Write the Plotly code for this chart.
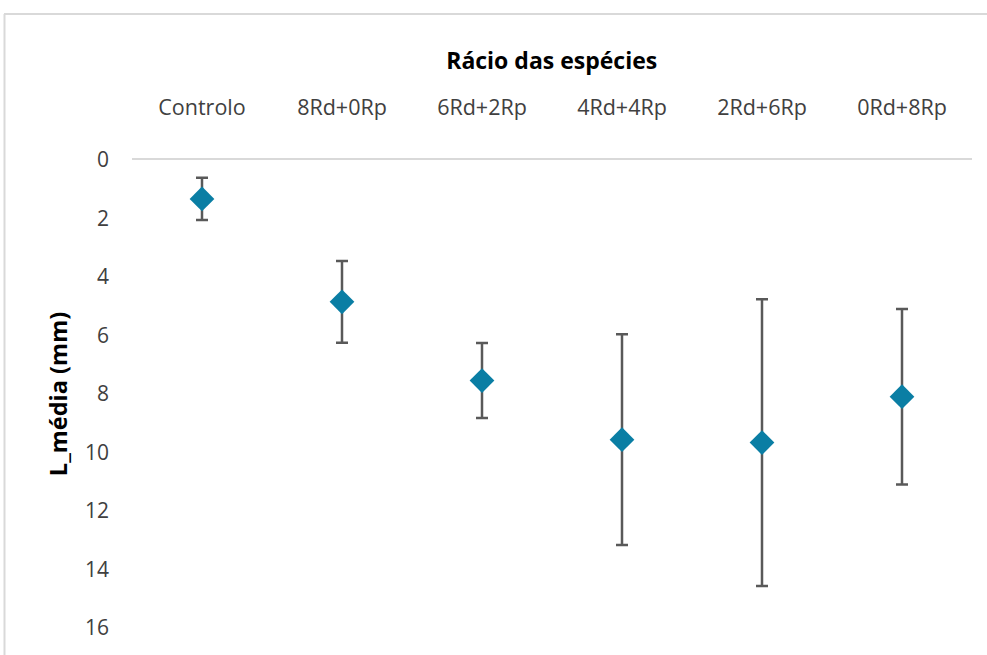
import plotly.graph_objects as go

categories = ["Controlo", "8Rd+0Rp", "6Rd+2Rp", "4Rd+4Rp", "2Rd+6Rp", "0Rd+8Rp"]
l_media = [1.33, 4.85, 7.54, 9.56, 9.66, 8.09]
erro = [0.72, 1.40, 1.28, 3.60, 4.90, 3.00]
y_ticks = [0, 2, 4, 6, 8, 10, 12, 14, 16]

FONT = "Open Sans, sans-serif"

fig = go.Figure()
fig.add_trace(go.Scatter(
    x=categories, y=l_media, mode="markers",
    marker=dict(symbol="diamond", size=19, color="#0A7EA4"),
    error_y=dict(type="data", array=erro, visible=True, color="#595959", thickness=2.5, width=6),
    showlegend=False,
))

fig.update_layout(
    width=987, height=655,
    paper_bgcolor="white", plot_bgcolor="white",
    margin=dict(l=132, r=15, t=160, b=27),
    font=dict(family=FONT, size=21, color="#404040"),
    title=dict(text="<b>Rácio das espécies</b>", x=0.559, xanchor="center",
               y=1 - 61 / 655, yanchor="middle", yref="container",
               font=dict(family=FONT, size=23, color="black")),
    xaxis=dict(side="top", showgrid=False, showline=True, linecolor="#D9D9D9", linewidth=2,
               ticks="", ticklabelstandoff=34, tickfont=dict(size=21.5, color="#404040"),
               zeroline=False, range=[-0.5, 5.5]),
    yaxis=dict(range=[16, 0], tickvals=y_ticks, showgrid=False, zeroline=False, showline=False,
               ticks="", ticklabelstandoff=22, tickfont=dict(size=21, color="#404040"),
               title=dict(text="<b>L_média (mm)</b>", standoff=10,
                          font=dict(family=FONT, size=23.5, color="black"))),
    shapes=[
        dict(type="line", xref="paper", yref="paper", x0=-128 / 840, x1=1.1, y0=1 + 146 / 468, y1=1 + 146 / 468,
             line=dict(color="#D9D9D9", width=2)),
        dict(type="line", xref="paper", yref="paper", x0=-127.5 / 840, x1=-127.5 / 840, y0=-0.2, y1=1 + 146 / 468,
             line=dict(color="#D9D9D9", width=2)),
    ],
)

fig.write_html("out.html", config={"displayModeBar": False},
               post_script="document.body.style.margin='0';")
